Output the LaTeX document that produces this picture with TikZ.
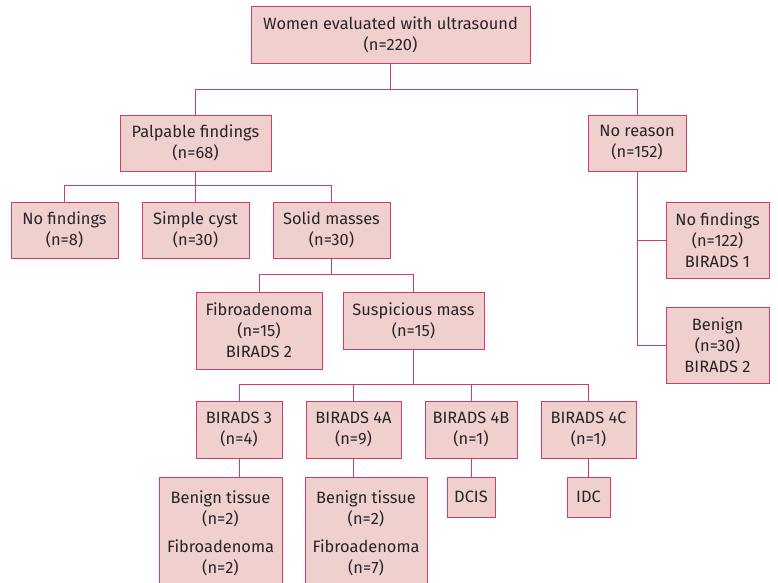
\documentclass[tikz,border=0pt]{standalone}
\usepackage{fontspec}
\setmainfont{Fira Sans}
\usepackage{tikz}
\usetikzlibrary{positioning, calc}
\definecolor{boxpink}{RGB}{240, 207, 207}
\definecolor{linepink}{RGB}{206, 62, 108}
\definecolor{textgray}{RGB}{40, 36, 38}

\begin{document}
\begin{tikzpicture}[
    x=1pt, y=-1pt,
    box/.style={rectangle, draw=linepink, line width=1pt, fill=boxpink, text=textgray, align=center, inner sep=0pt, font=\fontsize{16.4}{21}\selectfont},
    link/.style={draw=linepink, line width=1pt}
]
\useasboundingbox (0,0) rectangle (778,582);

% Root
\node[box, minimum width=279, minimum height=57] (root) at (390.5, 34.5) {Women evaluated with ultrasound\\(n=220)};

% Second level
\node[box, minimum width=151, minimum height=56] (palp) at (195.5, 143) {Palpable findings\\(n=68)};
\node[box, minimum width=98, minimum height=56] (noreason) at (637, 143) {No reason\\(n=152)};

% Palpable findings branch
\node[box, minimum width=107, minimum height=56] (nofind) at (64.5, 230) {No findings\\(n=8)};
\node[box, minimum width=107, minimum height=56] (cyst) at (195.5, 230) {Simple cyst\\(n=30)};
\node[box, minimum width=117, minimum height=56] (solid) at (331.5, 230) {Solid masses\\(n=30)};

\node[box, minimum width=126, minimum height=77] (fibro) at (259, 330.5) {Fibroadenoma\\(n=15)\\BIRADS 2};
\node[box, minimum width=141, minimum height=57] (susp) at (413.5, 320.5) {Suspicious mass\\(n=15)};

% BIRADS categories
\node[box, minimum width=86, minimum height=57] (birads3) at (239, 429.5) {BIRADS 3\\(n=4)};
\node[box, minimum width=95, minimum height=57] (birads4a) at (353.5, 429.5) {BIRADS 4A\\(n=9)};
\node[box, minimum width=92, minimum height=57] (birads4b) at (471, 429.5) {BIRADS 4B\\(n=1)};
\node[box, minimum width=95, minimum height=57] (birads4c) at (588.5, 429.5) {BIRADS 4C\\(n=1)};

% Pathology
\node[box, minimum width=123, minimum height=113] (tissue3) at (220.5, 533.5) {Benign tissue\\(n=2)\\[7pt]Fibroadenoma\\(n=2)};
\node[box, minimum width=122, minimum height=113] (tissue4a) at (366, 533.5) {Benign tissue\\(n=2)\\[7pt]Fibroadenoma\\(n=7)};
\node[box, minimum width=48, minimum height=40] (dcis) at (471, 497) {DCIS};
\node[box, minimum width=43, minimum height=40] (idc) at (588.5, 497) {IDC};

% No reason branch
\node[box, minimum width=103, minimum height=76] (nofind2) at (717.5, 240) {No findings\\(n=122)\\BIRADS 1};
\node[box, minimum width=103, minimum height=76] (benign) at (717.5, 345) {Benign\\(n=30)\\BIRADS 2};

% Bus levels
\coordinate (bus1) at (0, 89);
\coordinate (bus2) at (0, 185);
\coordinate (bus3) at (0, 274);
\coordinate (bus4) at (0, 384);

% Connectors
\draw[link] (root.south) -- (root.south |- bus1) -| (palp.north);
\draw[link] (root.south |- bus1) -| (noreason.north);

\draw[link] (palp.south) -- (palp.south |- bus2) -| (nofind.north);
\draw[link] (palp.south |- bus2) -| (solid.north);
\draw[link] (palp.south |- bus2) -- (cyst.north);

\draw[link] (solid.south) -- (solid.south |- bus3) -| (fibro.north);
\draw[link] (solid.south |- bus3) -| (susp.north);

\draw[link] (susp.south) -- (susp.south |- bus4) -| (birads3.north);
\draw[link] (susp.south |- bus4) -| (birads4a.north);
\draw[link] (susp.south |- bus4) -| (birads4b.north);
\draw[link] (susp.south |- bus4) -| (birads4c.north);

\draw[link] (birads3.south) -- (birads3.south |- tissue3.north);
\draw[link] (birads4a.south) -- (birads4a.south |- tissue4a.north);
\draw[link] (birads4b.south) -- (dcis.north);
\draw[link] (birads4c.south) -- (idc.north);

\draw[link] (noreason.south) |- (nofind2.west);
\draw[link] (noreason.south) |- (benign.west);

\end{tikzpicture}
\end{document}
